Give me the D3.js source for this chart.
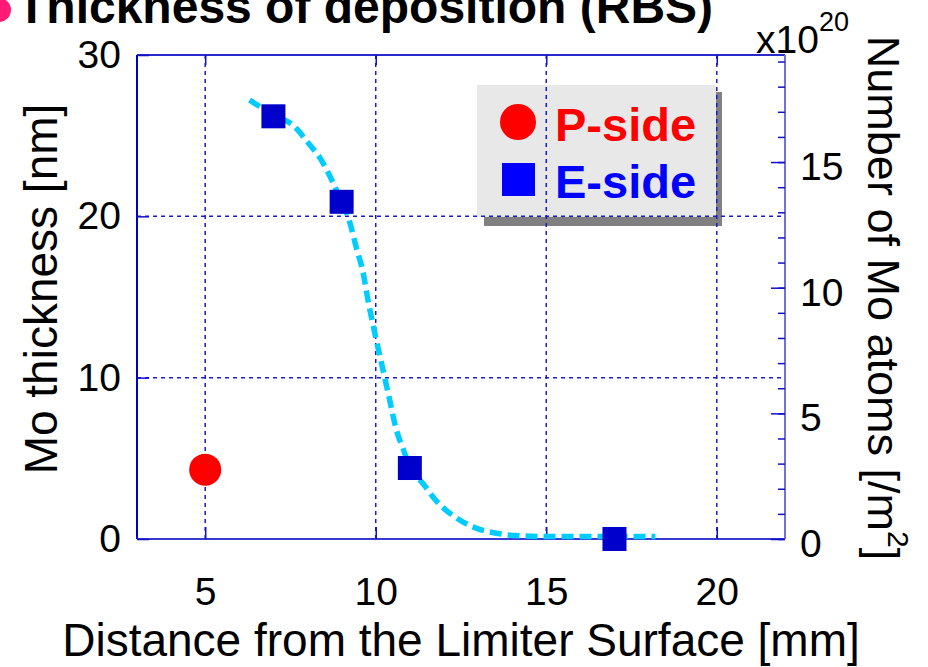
<!DOCTYPE html>
<html><head><meta charset="utf-8">
<script src="https://cdn.jsdelivr.net/npm/d3@7"></script>
<style>html,body{margin:0;padding:0;background:#fff;overflow:hidden}svg{display:block}</style>
</head><body>
<svg id="chart" width="928" height="667"></svg>
<script>
// ---- data ----
const xTicks = [5, 10, 15, 20];
const yTicks = [0, 10, 20, 30];
const y2Ticks = [0, 5, 10, 15];
const pSideX = [5];
const pSideY = [4.3];
const eSideX = [7, 9, 11, 17];
const eSideY = [26.2, 20.9, 4.4, 0];
const fitX = [6.3, 7.0, 7.6, 8.0, 8.4, 8.7, 9.0, 9.2, 9.45, 9.6, 9.8, 10.0, 10.2, 10.4, 10.6, 10.8, 11.0, 11.4, 11.8, 12.3, 12.85, 13.5, 14.2, 15, 16, 17, 18.2];
const fitY = [27.2, 26.3, 25.6, 24.6, 23.5, 22.3, 20.9, 19.9, 17.9, 16.8, 14.5, 12.5, 10.6, 8.7, 6.8, 5.6, 4.5, 3.4, 2.3, 1.4, 0.75, 0.37, 0.2, 0.15, 0.15, 0.15, 0.15];
const legendLabels = ["P-side", "E-side"];
const titleText = "Thickness of deposition (RBS)";
const xTitle = "Distance from the Limiter Surface [mm]";
const yTitle = "Mo thickness [nm]";

const svg = d3.select("#chart");
const FONT = "'Liberation Sans', Arial, Helvetica, sans-serif";
const L = 137, R = 785, T = 55, B = 539;
const x = d3.scaleLinear().domain([3, 22]).range([L, R]);
const y = d3.scaleLinear().domain([0, 30]).range([B, T]);
const y2 = d3.scaleLinear().domain([0, 19.26]).range([B, T]);
const axisBlue = "#1010cc";

// title
svg.append("circle").attr("cx", -1).attr("cy", 10).attr("r", 12).attr("fill", "#ff1a75");
svg.append("text").attr("x", 17).attr("y", 23).attr("font-family", FONT).attr("font-weight", "bold")
  .attr("font-size", 48).attr("fill", "#000").text(titleText);

// legend (drawn under the grid)
const lg = svg.append("g");
lg.append("rect").attr("x", 484).attr("y", 92).attr("width", 238).attr("height", 134).attr("fill", "#808080");
lg.append("rect").attr("x", 477).attr("y", 85).attr("width", 239).attr("height", 132).attr("fill", "#e8e8e8");
lg.append("circle").attr("cx", 518).attr("cy", 122).attr("r", 18).attr("fill", "#ff0000");
lg.append("rect").attr("x", 502).attr("y", 163).attr("width", 33).attr("height", 33).attr("fill", "#0000ff");
lg.append("text").attr("x", 555).attr("y", 141).attr("font-family", FONT).attr("font-weight", "bold")
  .attr("font-size", 47).attr("fill", "#ff0000").text(legendLabels[0]);
lg.append("text").attr("x", 555).attr("y", 198).attr("font-family", FONT).attr("font-weight", "bold")
  .attr("font-size", 47).attr("fill", "#0000ff").text(legendLabels[1]);

// grid
const grid = svg.append("g").attr("stroke", "#1a1acc").attr("stroke-width", 1.5).attr("stroke-dasharray", "4,4");
grid.selectAll("line.gx").data(xTicks).join("line").attr("class", "gx")
  .attr("x1", d => x(d)).attr("x2", d => x(d)).attr("y1", T).attr("y2", B);
grid.selectAll("line.gy").data(yTicks.filter(d => d > 0 && d < 30)).join("line").attr("class", "gy")
  .attr("x1", L).attr("x2", R).attr("y1", d => y(d)).attr("y2", d => y(d));

// frame
svg.append("line").attr("x1", L).attr("x2", R).attr("y1", T).attr("y2", T).attr("stroke", "#2a2acc").attr("stroke-width", 2);
svg.append("line").attr("x1", L).attr("x2", R).attr("y1", B).attr("y2", B).attr("stroke", "#3a3ad0").attr("stroke-width", 2);
svg.append("line").attr("x1", L).attr("x2", L).attr("y1", T).attr("y2", B).attr("stroke", "#0000cc").attr("stroke-width", 2);
svg.append("line").attr("x1", R).attr("x2", R).attr("y1", T).attr("y2", B).attr("stroke", "#7070e0").attr("stroke-width", 2);

function styleAxis(g) {
  g.select(".domain").remove();
  g.selectAll(".tick line").attr("stroke", axisBlue).attr("stroke-width", 1.5);
  g.selectAll(".tick text").attr("font-family", FONT).attr("font-size", 39).attr("fill", "#000");
}
// left axis
svg.append("g").attr("transform", `translate(${L},0)`)
  .call(d3.axisLeft(y).tickValues(yTicks).tickSize(-12).tickPadding(16).tickFormat(d3.format("d")))
  .call(styleAxis);
// bottom axis
svg.append("g").attr("transform", `translate(0,${B})`)
  .call(d3.axisBottom(x).tickValues(xTicks).tickSize(-12).tickPadding(38).tickFormat(d3.format("d")))
  .call(styleAxis);
// top ticks
svg.append("g").attr("transform", `translate(0,${T})`)
  .call(d3.axisTop(x).tickValues(xTicks).tickSize(-10).tickFormat(""))
  .call(styleAxis);
// right axis minor
svg.append("g").attr("transform", `translate(${R},0)`)
  .call(d3.axisRight(y2).tickValues(d3.range(0, 20)).tickSize(-7).tickFormat(""))
  .call(styleAxis);
// right axis major
const ra = svg.append("g").attr("transform", `translate(${R},0)`)
  .call(d3.axisRight(y2).tickValues(y2Ticks).tickSize(-14).tickPadding(15).tickFormat(d3.format("d")))
  .call(styleAxis);
ra.selectAll(".tick text").attr("dy", "0.45em");

// right axis multiplier
const mult = svg.append("text").attr("x", 756).attr("y", 53).attr("font-family", FONT).attr("font-size", 39).attr("fill", "#000");
mult.append("tspan").text("x10");
mult.append("tspan").attr("font-size", 27).attr("dy", -22).text("20");

// axis titles
svg.append("text").attr("x", 461).attr("y", 656).attr("text-anchor", "middle")
  .attr("font-family", FONT).attr("font-size", 46).attr("fill", "#000").text(xTitle);
svg.append("text").attr("transform", "translate(57,289) rotate(-90)").attr("text-anchor", "middle")
  .attr("font-family", FONT).attr("font-size", 46).attr("fill", "#000").text(yTitle);
const rt = svg.append("text").attr("transform", "translate(868,298) rotate(90)").attr("text-anchor", "middle")
  .attr("font-family", FONT).attr("font-size", 45).attr("fill", "#000");
rt.append("tspan").text("Number of Mo atoms [/m");
rt.append("tspan").attr("font-size", 30).attr("dy", -20).text("2");
rt.append("tspan").attr("dy", 20).text("]");

// fit curve
const fit = fitX.map((d, i) => [d, fitY[i]]);
svg.append("path").datum(fit)
  .attr("d", d3.line().x(d => x(d[0])).y(d => y(d[1])).curve(d3.curveMonotoneX))
  .attr("fill", "none").attr("stroke", "#00ccff").attr("stroke-width", 5.5).attr("stroke-dasharray", "12,6");

// P-side
svg.selectAll("circle.p").data(pSideX.map((d, i) => [d, pSideY[i]])).join("circle").attr("class", "p")
  .attr("cx", d => x(d[0])).attr("cy", d => y(d[1])).attr("r", 16).attr("fill", "#ff0000");
// E-side
const s = 24;
svg.selectAll("rect.e").data(eSideX.map((d, i) => [d, eSideY[i]])).join("rect").attr("class", "e")
  .attr("x", d => x(d[0]) - s / 2).attr("y", d => y(d[1]) - s / 2).attr("width", s).attr("height", s).attr("fill", "#0000cc");
</script>
</body></html>
